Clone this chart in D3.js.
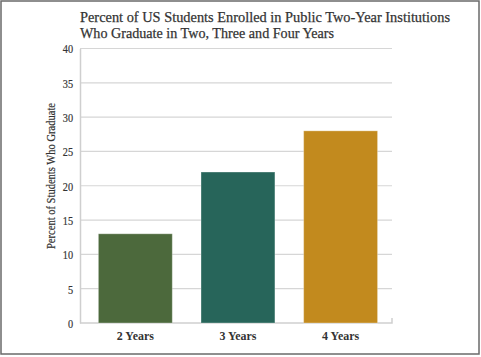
<!DOCTYPE html>
<html><head><meta charset="utf-8">
<script src="https://cdn.jsdelivr.net/npm/d3@7"></script>
<style>body{margin:0;background:#fff}svg{display:block}text{font-family:"Liberation Serif","DejaVu Serif",serif}</style>
</head><body><svg id="c" width="481" height="357"></svg>
<script>
const categories = ["2 Years", "3 Years", "4 Years"];
const values = [13, 22, 28];
const colors = ["#4c693c", "#27655a", "#c28a1e"];
const yTicks = [0, 5, 10, 15, 20, 25, 30, 35, 40];
const titleLines = ["Percent of US Students Enrolled in Public Two-Year Institutions", "Who Graduate in Two, Three and Four Years"];
const yLabel = "Percent of Students Who Graduate";

const svg = d3.select("#c");
svg.append("rect").attr("x", 1).attr("y", 1).attr("width", 478).attr("height", 353)
  .attr("fill", "#fff").attr("stroke", "#6a6a6a").attr("stroke-width", 1.5);

const x = d3.scaleBand().domain(categories).range([80, 392]).paddingInner(0.28).paddingOuter(0.16).align(0.56);
const y = d3.scaleLinear().domain([0, 40]).range([323, 48.5]);

// gridlines
svg.append("g").selectAll("line").data(yTicks.filter(d => d > 0)).join("line")
  .attr("x1", 80).attr("x2", 392).attr("y1", d => y(d)).attr("y2", d => y(d))
  .attr("stroke", "#d6d6d6").attr("stroke-width", 1.2);

// y axis
const ya = svg.append("g").attr("transform", "translate(80,0)")
  .call(d3.axisLeft(y).tickValues(yTicks).tickSize(0).tickPadding(7));
ya.select(".domain").attr("stroke", "#cfcfcf").attr("stroke-width", 1.5);
ya.selectAll("text").attr("font-size", 12.5).attr("fill", "#333").attr("transform", "scale(0.82,1)")
  .attr("x", -7 / 0.82).attr("dy", "0.35em")
  .attr("stroke", "#333").attr("stroke-width", 0.2);

// x axis
const xa = svg.append("g").attr("transform", "translate(0,323)")
  .call(d3.axisBottom(x).tickSize(0).tickPadding(8));
xa.select(".domain").attr("stroke", "#cfcfcf").attr("stroke-width", 1.5).attr("d", "M80,0H392V-5");
xa.selectAll("text").attr("font-size", 12).attr("font-weight", "bold").attr("fill", "#333")
  .attr("textLength", 37).attr("lengthAdjust", "spacingAndGlyphs");

// bars
svg.append("g").selectAll("rect").data(values).join("rect")
  .attr("x", (d, i) => x(categories[i])).attr("width", x.bandwidth())
  .attr("y", d => y(d)).attr("height", d => y(0) - y(d))
  .attr("fill", (d, i) => colors[i])
  .attr("stroke", "rgba(255,255,255,0.3)").attr("stroke-width", 1);

// title
svg.append("g").selectAll("text").data(titleLines).join("text")
  .attr("x", 80).attr("y", (d, i) => 22 + i * 16)
  .attr("font-size", 15).attr("fill", "#333").attr("stroke", "#333").attr("stroke-width", 0.25)
  .attr("textLength", (d, i) => i === 0 ? 370 : 254).attr("lengthAdjust", "spacingAndGlyphs")
  .text(d => d);

// y label
svg.append("text").attr("transform", "translate(55,176) rotate(-90)")
  .attr("text-anchor", "middle").attr("font-size", 13).attr("fill", "#333")
  .attr("stroke", "#333").attr("stroke-width", 0.2)
  .attr("textLength", 146).attr("lengthAdjust", "spacingAndGlyphs")
  .text(yLabel);
</script></body></html>
